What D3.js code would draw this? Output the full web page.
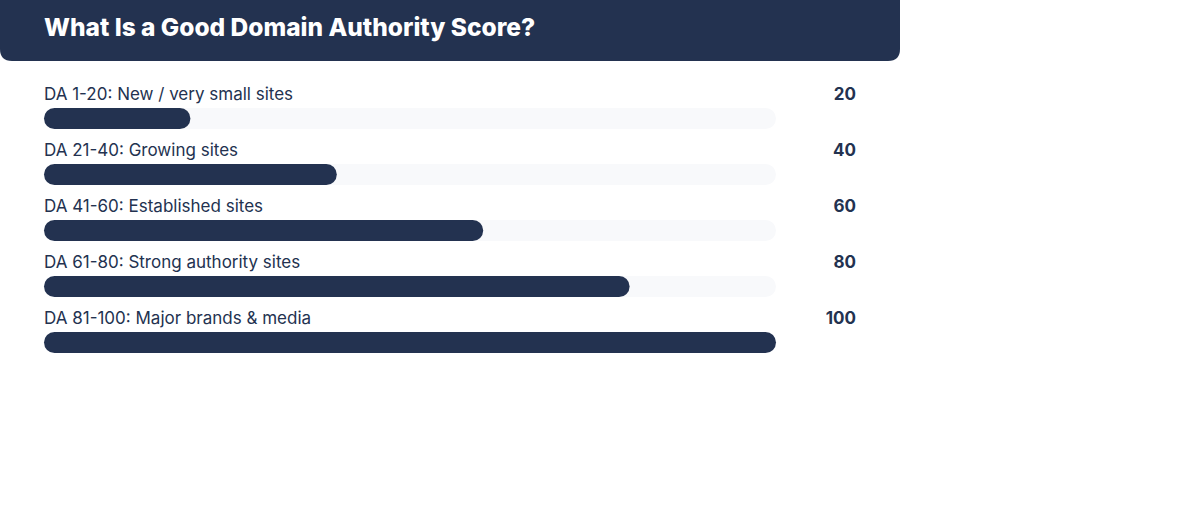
<!DOCTYPE html>
<html>
<head>
<meta charset="utf-8">
<script src="https://cdn.jsdelivr.net/npm/d3@7"></script>
<style>
  body { margin: 0; background: #fff; }
  svg { display: block; font-family: Inter, "Noto Sans", sans-serif; }
</style>
</head>
<body>
<div id="chart"></div>
<script>
const title = "What Is a Good Domain Authority Score?";
const categories = [
    "DA 1-20: New / very small sites",
    "DA 21-40: Growing sites",
    "DA 41-60: Established sites",
    "DA 61-80: Strong authority sites",
    "DA 81-100: Major brands & media"
];
const scores = [20, 40, 60, 80, 100];
const scoreDomain = [0, 100];

const width = 1200, height = 529;
const navy = "#233250";
const rowTop = 72, rowStep = 56, barOffset = 36, barHeight = 21;

const svg = d3.select("#chart").append("svg")
    .attr("width", width)
    .attr("height", height);

// header band, square top, rounded bottom
const hw = 900, hh = 61, hr = 12;
svg.append("path")
    .attr("d", `M0,0 H${hw} V${hh - hr} Q${hw},${hh} ${hw - hr},${hh} H${hr} Q0,${hh} 0,${hh - hr} Z`)
    .attr("fill", navy);

svg.append("text")
    .attr("x", 44)
    .attr("y", 36)
    .attr("fill", "#fff")
    .attr("font-size", 24.5)
    .attr("font-weight", 800)
    .text(title);

const x = d3.scaleLinear().domain(scoreDomain).range([44, 776]);
const y = d3.scaleBand().domain(categories).range([rowTop, rowTop + rowStep * categories.length]);

const data = categories.map((c, i) => ({label: c, value: scores[i]}));

const row = svg.selectAll(".row")
    .data(data)
    .enter()
    .append("g")
    .attr("class", "row")
    .attr("transform", d => `translate(0,${y(d.label)})`);

row.append("text")
    .attr("x", x(0))
    .attr("y", 28)
    .attr("fill", navy)
    .attr("font-size", 17)
    .text(d => d.label);

row.append("text")
    .attr("x", 856)
    .attr("y", 28)
    .attr("text-anchor", "end")
    .attr("fill", navy)
    .attr("font-size", 17)
    .attr("font-weight", 700)
    .text(d => d.value);

row.append("rect")
    .attr("class", "track")
    .attr("x", x(0))
    .attr("y", barOffset)
    .attr("width", x(scoreDomain[1]) - x(0))
    .attr("height", barHeight)
    .attr("rx", barHeight / 2)
    .attr("fill", "#f8f9fb");

row.append("rect")
    .attr("class", "bar")
    .attr("x", x(0))
    .attr("y", barOffset)
    .attr("width", d => x(d.value) - x(0))
    .attr("height", barHeight)
    .attr("rx", barHeight / 2)
    .attr("fill", navy);
</script>
</body>
</html>
